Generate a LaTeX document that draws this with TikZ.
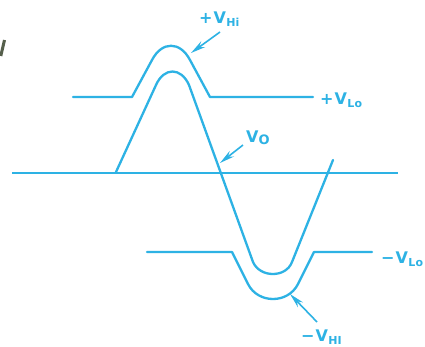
\documentclass[tikz,border=0pt]{standalone}
\usepackage{fontspec}
\newfontfamily\lblfont{DejaVu Sans}
\usetikzlibrary{arrows.meta}
\definecolor{wave}{RGB}{45,178,228}
\definecolor{edgegray}{RGB}{85,95,75}
\newcommand{\volt}[2]{#1\kern1pt V\kern0.5pt\raisebox{-3pt}{\fontsize{11}{11}\selectfont #2}}
\tikzset{
  curve/.style={draw=wave, line width=2.3pt, line join=round, line cap=round},
  axis/.style={draw=wave, line width=1.9pt},
  pointer/.style={draw=wave, line width=1.6pt, -{Stealth[length=15pt,width=7pt]}},
  lbl/.style={text=wave, font=\lblfont\bfseries\fontsize{16}{16}\selectfont, inner sep=0pt, anchor=base west},
}
\begin{document}
\begin{tikzpicture}[x=1pt,y=-1pt]
\useasboundingbox[fill=white] (0,0) rectangle (425,346);
% fragment at the left edge
\draw[edgegray, line width=3pt] (4.5,40) -- (0.8,56);
% zero axis
\draw[axis] (12,173) -- (398,173);
% +V_Lo / +V_Hi outline
\draw[curve] (73,97) -- (132,97) -- (152,60) .. controls (162,41) and (180,41) .. (190,60) -- (210,97) -- (313,97);
% -V_Lo / -V_HI outline
\draw[curve] (147,252) -- (232,252) -- (248,284) .. controls (258,304) and (288,304) .. (298,284) -- (314,252) -- (372,252);
% output signal V_o
\draw[curve] (116,172) -- (156,85) .. controls (164,67) and (181,67) .. (189,85) -- (253,262) .. controls (260,278) and (286,278) .. (292,262) -- (333,160);
% labels
\node[lbl] (vhi) at (199,23) {\volt{+}{Hi}};
\node[lbl] (vlo) at (320,104) {\volt{+}{Lo}};
\node[lbl] (vo) at (246,142) {V\raisebox{-2.5pt}{\fontsize{13}{13}\selectfont O}};
\node[lbl] (nvlo) at (381,263) {\volt{−}{Lo}};
\node[lbl] (nvhi) at (301,341) {\volt{−}{HI}};
% pointer coordinates
\coordinate (hiT) at (220,32);  \coordinate (hiH) at (191,53);
\coordinate (voT) at (243,145); \coordinate (voH) at (220,163);
\coordinate (nhT) at (317,322); \coordinate (nhH) at (290,294);
\draw[pointer] (hiT) -- (hiH);
\draw[pointer] (voT) -- (voH);
\draw[pointer] (nhT) -- (nhH);
\end{tikzpicture}
\end{document}
